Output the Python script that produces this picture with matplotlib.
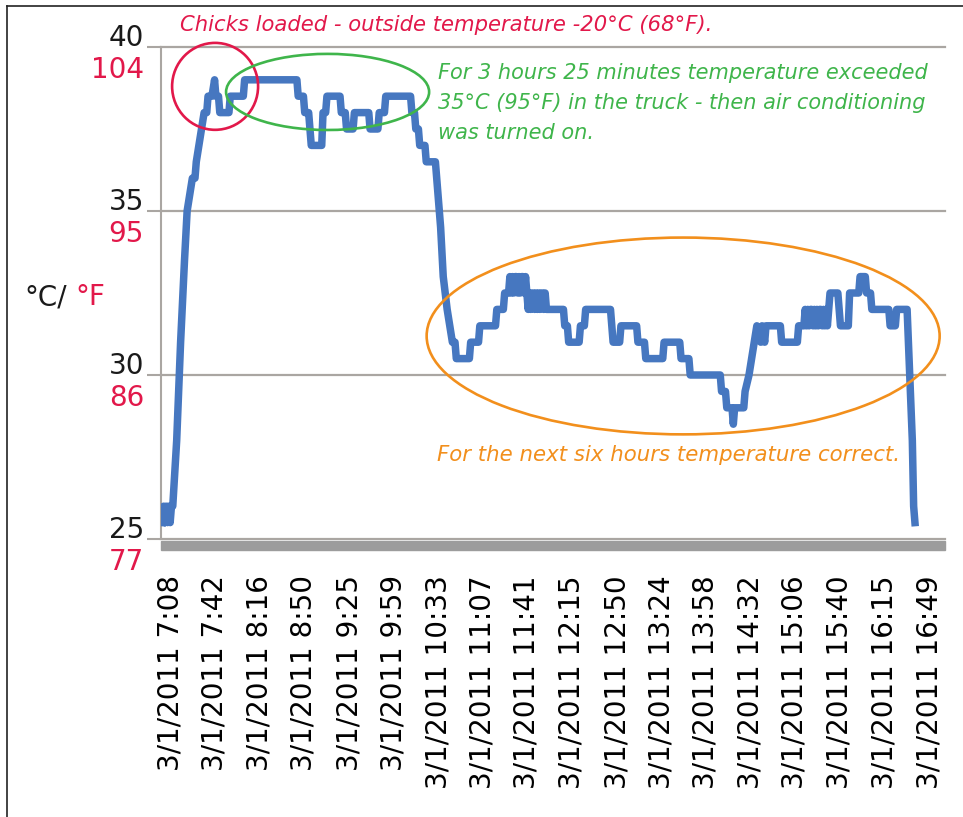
import matplotlib.pyplot as plt
from matplotlib.patches import Ellipse, Rectangle
from matplotlib.lines import Line2D

# logger readings (clock time, deg C)
times = ["7:02", "7:03", "7:04", "7:05", "7:06", "7:07", "7:08", "7:09", "7:10",
         "7:13", "7:16", "7:19", "7:21", "7:23", "7:25", "7:27", "7:28", "7:30",
         "7:32", "7:34", "7:36", "7:37", "7:40", "7:42", "7:43", "7:45", "7:46",
         "7:53", "7:54", "8:04", "8:05", "8:45", "8:46", "8:50", "8:51", "8:54",
         "8:55", "8:56", "9:04", "9:05", "9:07", "9:08", "9:18", "9:19", "9:22",
         "9:23", "9:28", "9:29", "9:40", "9:41", "9:47", "9:48", "9:52", "9:53",
         "10:12", "10:13", "10:15", "10:16", "10:18", "10:19", "10:23", "10:24",
         "10:31", "10:32", "10:35", "10:37", "10:40", "10:42", "10:44", "10:46",
         "10:47", "10:57", "10:58", "11:04", "11:05", "11:17", "11:18", "11:23",
         "11:24", "11:27",
         "11:28", "11:29", "11:30", "11:31", "11:32", "11:33", "11:34", "11:35",
         "11:36", "11:37", "11:38", "11:39", "11:40",
         "11:41", "11:42", "11:43", "11:44", "11:45", "11:46", "11:47", "11:48",
         "11:49", "11:50", "11:51", "11:52", "11:53", "11:54", "11:55", "11:56",
         "11:57",
         "12:09", "12:10", "12:12", "12:13", "12:21", "12:22", "12:25", "12:26",
         "12:45", "12:46", "12:47", "12:52", "12:53", "13:05", "13:06", "13:11",
         "13:12", "13:25", "13:26", "13:38", "13:39", "13:45", "13:46", "14:09",
         "14:10", "14:13", "14:14", "14:18", "14:19", "14:20", "14:27", "14:28",
         "14:31", "14:33", "14:35", "14:37", "14:40", "14:41", "14:43", "14:44",
         "14:45", "14:55", "14:56", "15:08", "15:09", "15:13",
         "15:14", "15:15", "15:16", "15:17", "15:18", "15:19", "15:20", "15:21",
         "15:22", "15:23", "15:24", "15:25", "15:26", "15:27", "15:28", "15:29",
         "15:30", "15:31", "15:32",
         "15:33", "15:39", "15:40", "15:41", "15:47",
         "15:48", "15:55", "15:56", "16:00", "16:01", "16:04", "16:05", "16:18",
         "16:19", "16:23", "16:24", "16:32", "16:34", "16:36", "16:37", "16:38"]
temps = [25.5, 26.0, 25.5, 26.0, 25.5, 26.0, 25.5, 26.0, 26.0,
         28.0, 31.0, 33.5, 35.0, 35.5, 36.0, 36.0, 36.5, 37.0,
         37.5, 38.0, 38.0, 38.5, 38.5, 39.0, 38.5, 38.5, 38.0,
         38.0, 38.5, 38.5, 39.0, 39.0, 38.5, 38.5, 38.0, 38.0,
         37.5, 37.0, 37.0, 38.0, 38.0, 38.5, 38.5, 38.0, 38.0,
         37.5, 37.5, 38.0, 38.0, 37.5, 37.5, 38.0, 38.0, 38.5,
         38.5, 38.0, 38.0, 37.5, 37.5, 37.0, 37.0, 36.5,
         36.5, 36.0, 34.5, 33.0, 32.0, 31.5, 31.0, 31.0,
         30.5, 30.5, 31.0, 31.0, 31.5, 31.5, 32.0, 32.0,
         32.5, 32.5,
         33.0, 32.5, 33.0, 32.5, 33.0, 33.0, 32.5, 33.0,
         32.5, 33.0, 33.0, 32.5, 33.0,
         32.5, 32.0, 32.5, 32.0, 32.5, 32.5, 32.0, 32.5,
         32.0, 32.5, 32.0, 32.5, 32.5, 32.0, 32.5, 32.0,
         32.0,
         32.0, 31.5, 31.5, 31.0, 31.0, 31.5, 31.5, 32.0,
         32.0, 31.5, 31.0, 31.0, 31.5, 31.5, 31.0, 31.0,
         30.5, 30.5, 31.0, 31.0, 30.5, 30.5, 30.0, 30.0,
         29.5, 29.5, 29.0, 29.0, 28.5, 29.0, 29.0, 29.5,
         30.0, 30.5, 31.0, 31.5, 31.0, 31.5, 31.0, 31.5,
         31.5, 31.5, 31.0, 31.0, 31.5, 31.5,
         32.0, 31.5, 32.0, 31.5, 32.0, 32.0, 31.5, 32.0,
         31.5, 32.0, 31.5, 32.0, 32.0, 31.5, 32.0, 31.5,
         32.0, 31.5, 32.0,
         32.5, 32.5, 32.0, 31.5, 31.5,
         32.5, 32.5, 33.0, 33.0, 32.5, 32.5, 32.0, 32.0,
         31.5, 31.5, 32.0, 32.0, 30.0, 28.0, 26.0, 25.5]

tick_date = "3/1/2011"
tick_times = ["7:08", "7:42", "8:16", "8:50", "9:25", "9:59", "10:33", "11:07",
              "11:41", "12:15", "12:50", "13:24", "13:58", "14:32", "15:06",
              "15:40", "16:15", "16:49"]

c_ticks = [25, 30, 35, 40]
f_ticks = [77, 86, 95, 104]

blue = "#4677c0"
red = "#e2184a"
green = "#3fb54b"
orange = "#f28f1c"
gridc = "#aaa6a2"


def minutes(s):
    h, m = s.split(":")
    return int(h) * 60 + int(m)


def fpx(x, y):
    # picture pixels (from top left) -> figure fraction
    return x / 963, 1 - y / 817


x = [minutes(t) for t in times]

fig = plt.figure(figsize=(9.63, 8.17), dpi=100)
ax = fig.add_axes([161 / 963, 1 - 539 / 817, 784 / 963, 492 / 817])

ax.plot(x, temps, color=blue, lw=5.4, solid_joinstyle="round", zorder=3)

ax.set_xlim(minutes("7:01"), minutes("17:01"))
ax.set_ylim(25, 40)

ax.set_yticks(c_ticks)
ax.set_yticklabels([])
ax.tick_params(axis="y", length=10, width=1.5, color=gridc)
ax.yaxis.grid(True, color=gridc, lw=1.6)
for gl in ax.get_ygridlines():
    gl.set_clip_on(False)

ax.set_xticks([minutes(t) for t in tick_times])
ax.set_xticklabels([tick_date + " " + t for t in tick_times], rotation=90, fontsize=20)
ax.tick_params(axis="x", length=0, pad=26)

for s in ["top", "right", "bottom"]:
    ax.spines[s].set_visible(False)
ax.spines["left"].set_color(gridc)
ax.spines["left"].set_linewidth(1.5)

# grey floor under the plot
ax.add_patch(Rectangle((0, -11 / 492), 1, 9 / 492, transform=ax.transAxes,
                       color="#9c9c9c", clip_on=False, zorder=2))

# two coloured labels on each gridline
yt = ax.get_yaxis_transform()
for c, f in zip(c_ticks, f_ticks):
    ax.annotate(str(c), xy=(0, c), xycoords=yt, xytext=(-17, 9),
                textcoords="offset pixels", ha="right", va="center",
                fontsize=20, color="#1a1a1a", annotation_clip=False)
    ax.annotate(str(f), xy=(0, c), xycoords=yt, xytext=(-17, -23),
                textcoords="offset pixels", ha="right", va="center",
                fontsize=20, color=red, annotation_clip=False)

fig.text(*fpx(24, 297), "°C/", fontsize=20, color="#1a1a1a", va="center")
fig.text(*fpx(75, 297), "°F", fontsize=20, color=red, va="center")

# rings around the parts of the curve
ax.add_patch(Ellipse((462.4, 38.8), 65.8, 2.65, fill=False, ec=red, lw=1.9, clip_on=False, zorder=4))
ax.add_patch(Ellipse((548.5, 38.63), 155.4, 2.32, fill=False, ec=green, lw=1.9, clip_on=False, zorder=4))
ax.add_patch(Ellipse((820.6, 31.19), 392.6, 6.0, fill=False, ec=orange, lw=1.9, clip_on=False, zorder=4))

fig.text(*fpx(180, 25), "Chicks loaded - outside temperature -20°C (68°F).",
         fontsize=15.2, style="italic", color=red, va="center")
fig.text(*fpx(438, 103), "For 3 hours 25 minutes temperature exceeded\n"
         "35°C (95°F) in the truck - then air conditioning\nwas turned on.",
         fontsize=15, style="italic", color=green, va="center", linespacing=1.6)
fig.text(*fpx(437, 455), "For the next six hours temperature correct.",
         fontsize=15.3, style="italic", color=orange, va="center")

# page frame lines
fig.add_artist(Line2D([7 / 963, 1], [1 - 6 / 817, 1 - 6 / 817], color="#222222", lw=1.2))
fig.add_artist(Line2D([7 / 963, 7 / 963], [0, 1 - 6 / 817], color="#222222", lw=1.2))

fig.savefig("out.png", dpi=100)
